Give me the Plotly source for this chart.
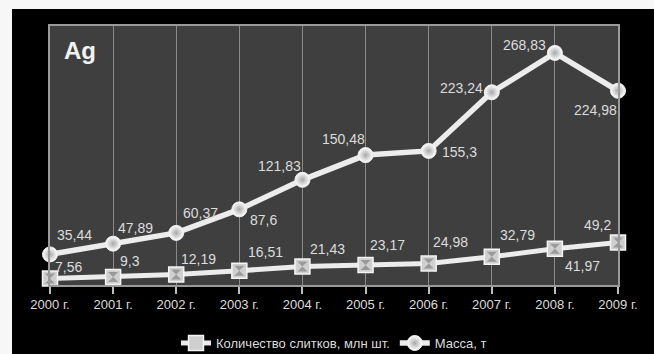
import plotly.graph_objects as go

# Silver bullion production, 2000-2009
years = ["2000 г.", "2001 г.", "2002 г.", "2003 г.", "2004 г.",
         "2005 г.", "2006 г.", "2007 г.", "2008 г.", "2009 г."]
bars_count = [7.56, 9.3, 12.19, 16.51, 21.43, 23.17, 24.98, 32.79, 41.97, 49.2]
mass_t = [35.44, 47.89, 60.37, 87.6, 121.83, 150.48, 155.3, 223.24, 268.83, 224.98]

name_count = "Количество слитков, млн шт."
name_mass = "Масса, т"

# label offsets in pixels (dx, dy), dy positive = upward
mass_off = [(24, 19), (22, 16), (24, 20), (24, -11), (-23, 14),
            (-22, 16), (31, -1), (-30, 4), (-30, 8), (-23, -19)]
count_off = [(18, 11), (17, 16), (22, 15), (26, 19), (25, 18),
             (22, 20), (22, 21), (26, 22), (28, -17), (-21, 18)]


def fmt(v):
    return str(v).replace(".", ",")


LINE_C = "#ececec"
TXT_C = "#dcdcdc"
FONT = "Liberation Sans, Arial, sans-serif"

fig = go.Figure()

fig.add_trace(go.Scatter(
    x=years, y=bars_count, name=name_count, mode="lines+markers",
    cliponaxis=False,
    line=dict(color=LINE_C, width=5),
    marker=dict(symbol="square", size=15, color="#cfcfcf",
                line=dict(color="#f4f4f4", width=1.5)),
))
# hourglass glyph inside the square markers
fig.add_trace(go.Scatter(
    x=years, y=bars_count, mode="markers", showlegend=False, hoverinfo="skip",
    cliponaxis=False,
    marker=dict(symbol="hourglass", size=10, color="#9a9a9a",
                line=dict(width=0)),
))

fig.add_trace(go.Scatter(
    x=years, y=mass_t, name=name_mass, mode="lines+markers",
    cliponaxis=False,
    line=dict(color=LINE_C, width=5.5),
    marker=dict(symbol="circle", size=15, color="#ffffff",
                gradient=dict(type="radial", color="#a8a8a8"),
                line=dict(color="#eeeeee", width=1)),
))

annotations = []
for yr, v, (dx, dy) in zip(years, mass_t, mass_off):
    annotations.append(dict(x=yr, y=v, text=fmt(v), showarrow=False,
                            xshift=dx, yshift=dy,
                            font=dict(family=FONT, size=14, color=TXT_C)))
for yr, v, (dx, dy) in zip(years, bars_count, count_off):
    annotations.append(dict(x=yr, y=v, text=fmt(v), showarrow=False,
                            xshift=dx, yshift=dy,
                            font=dict(family=FONT, size=14, color=TXT_C)))

annotations.append(dict(xref="paper", yref="paper", x=0.022, y=0.907,
                        xanchor="left", yanchor="middle", text="<b>Ag</b>",
                        showarrow=False,
                        font=dict(family=FONT, size=24, color="#f2f2f2")))

shapes = [
    # black panel extending to the right edge
    dict(type="rect", xref="paper", yref="paper", x0=1.0, x1=1.3,
         y0=-0.5, y1=1.0656, fillcolor="#000000", line=dict(width=0),
         layer="below"),
    # light frame strips around the black panel
    dict(type="rect", xref="paper", yref="paper", x0=-0.2, x1=1.3,
         y0=1.0656, y1=1.3, fillcolor="#f7f7f7", line=dict(width=0),
         layer="above"),
    dict(type="rect", xref="paper", yref="paper", x0=-0.2, x1=-0.0669,
         y0=-0.5, y1=1.3, fillcolor="#f7f7f7", line=dict(width=0),
         layer="above"),
]

fig.update_layout(
    width=654, height=354,
    margin=dict(l=50, r=36, t=26, b=69, autoexpand=False),
    paper_bgcolor="#000000",
    plot_bgcolor="#3f3f3f",
    font=dict(family=FONT, color=TXT_C),
    showlegend=True,
    legend=dict(orientation="h", x=0.5, xanchor="center",
                yref="container", y=0.031, yanchor="middle",
                bgcolor="rgba(0,0,0,0)",
                font=dict(family=FONT, size=13, color=TXT_C),
                itemwidth=30),
    xaxis=dict(type="category", range=[0, 9], showgrid=True,
               gridcolor="#8a8a8a", gridwidth=1,
               showline=True, mirror=True, linecolor="#9a9a9a", linewidth=1.5,
               ticks="outside", ticklen=7, tickcolor="#bdbdbd", tickwidth=1.5,
               tickfont=dict(family=FONT, size=13, color=TXT_C),
               zeroline=False, fixedrange=True),
    yaxis=dict(range=[0, 300], showgrid=False, showticklabels=False,
               ticks="", showline=True, mirror=True, linecolor="#9a9a9a",
               linewidth=1.5, zeroline=False, fixedrange=True),
    annotations=annotations,
    shapes=shapes,
)

fig.write_html(
    "out.html",
    post_script="document.body.style.margin='0';"
                "document.body.style.background='#000';"
                "document.body.style.overflow='hidden';"
                "document.documentElement.style.overflow='hidden';",
)
